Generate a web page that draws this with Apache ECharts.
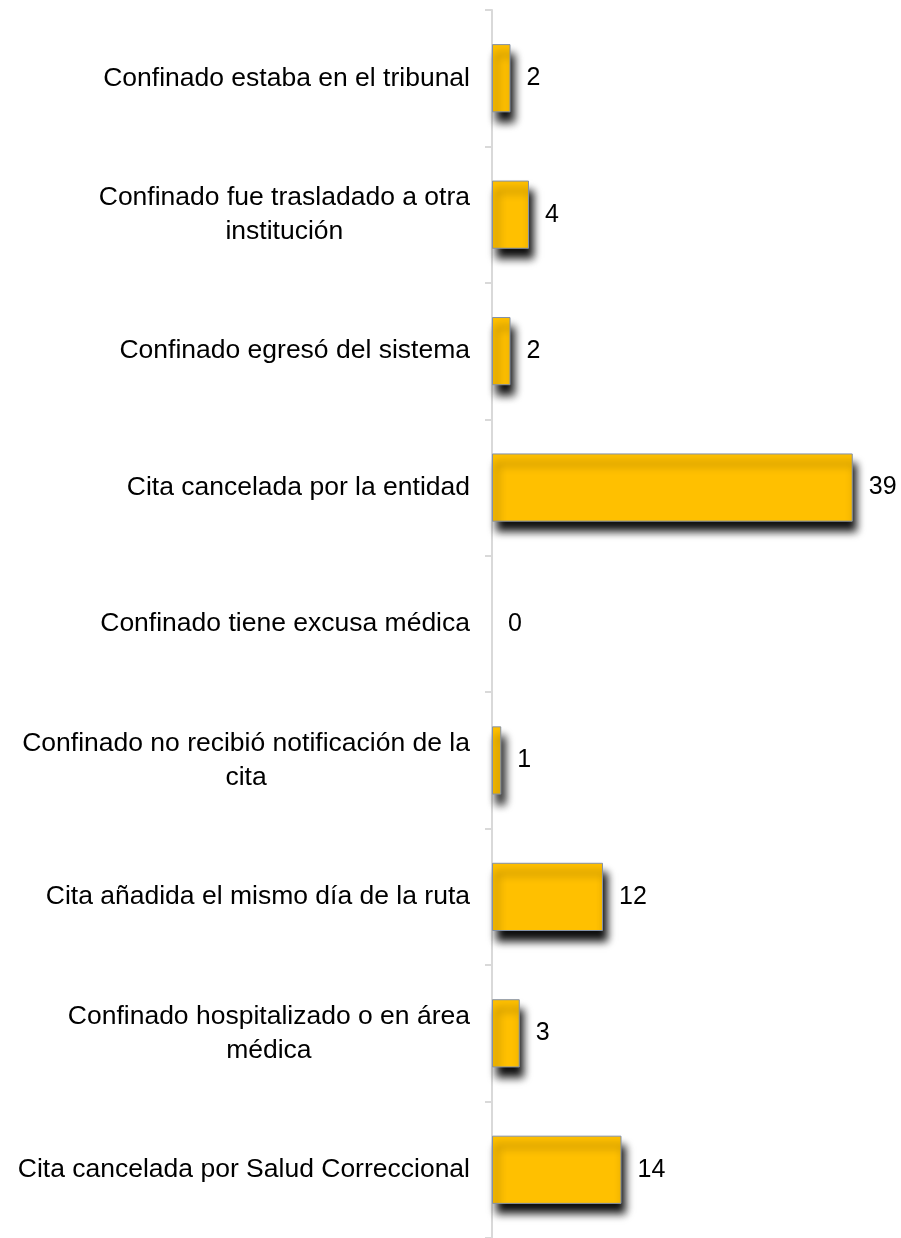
<!DOCTYPE html>
<html>
<head>
<meta charset="utf-8">
<script src="https://cdn.jsdelivr.net/npm/echarts@6/dist/echarts.min.js"></script>
<style>
  html, body { margin: 0; padding: 0; background: #ffffff; }
  #chart { width: 901px; height: 1238px; }
</style>
</head>
<body>
<div id="chart"></div>
<script>
// categorías de arriba hacia abajo
var categories = [
  "Confinado estaba en el tribunal",
  "Confinado fue trasladado a otra\ninstitución",
  "Confinado egresó del sistema",
  "Cita cancelada por la entidad",
  "Confinado tiene excusa médica",
  "Confinado no recibió notificación de la\ncita",
  "Cita añadida el mismo día de la ruta",
  "Confinado hospitalizado o en área\nmédica",
  "Cita cancelada por Salud Correccional"
];
var values = [2, 4, 2, 39, 0, 1, 12, 3, 14];

var myChart = echarts.init(document.getElementById("chart"));

var option = {
  animation: false,
  grid: {
    left: 492,
    top: 10,
    right: 39,
    height: 1231
  },
  xAxis: {
    type: "value",
    min: 0,
    max: 40,
    show: false
  },
  yAxis: {
    type: "category",
    inverse: true,
    data: categories,
    axisLine: { show: true, lineStyle: { color: "#d9d9d9", width: 2 } },
    axisTick: { show: true, length: 7, lineStyle: { color: "#d9d9d9", width: 2 } },
    axisLabel: {
      margin: 22,
      color: "#000",
      fontFamily: "Liberation Sans, Arial, sans-serif",
      fontSize: 26.5,
      lineHeight: 34,
      formatter: function (v) {
        // cada línea centrada dentro del bloque
        return v.split("\n").map(function (l) { return "{c|" + l + "}"; }).join("\n");
      },
      rich: {
        c: {
          align: "center",
          color: "#000",
          fontFamily: "Liberation Sans, Arial, sans-serif",
          fontSize: 26.5,
          lineHeight: 34
        }
      }
    },
    splitLine: { show: false }
  },
  series: [
    {
      type: "bar",
      // una barra de valor 0 no debe dejar borde ni sombra
      data: values.map(function (v) {
        return v === 0
          ? { value: v, itemStyle: { borderWidth: 0, shadowBlur: 0, shadowOffsetX: 0, shadowOffsetY: 0, shadowColor: "transparent" } }
          : v;
      }),
      barCategoryGap: "50%",
      itemStyle: {
        color: "#ffc000",
        borderColor: "#8391a8",
        borderWidth: 1,
        shadowColor: "rgba(0,0,0,0.95)",
        shadowBlur: 8,
        shadowOffsetX: 4,
        shadowOffsetY: 10
      },
      label: {
        show: true,
        position: "right",
        distance: 16,
        color: "#000",
        fontFamily: "Liberation Sans, Arial, sans-serif",
        fontSize: 25
      }
    }
  ]
};

myChart.setOption(option);
</script>
</body>
</html>
